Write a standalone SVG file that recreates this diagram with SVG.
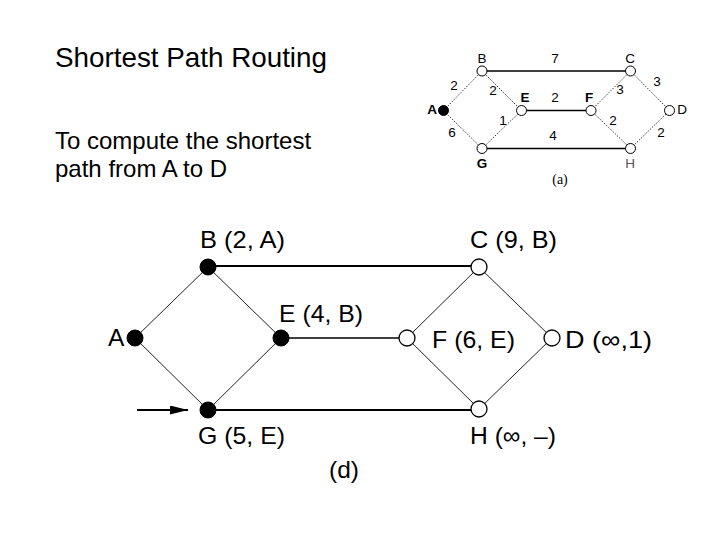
<svg xmlns="http://www.w3.org/2000/svg" width="720" height="540" viewBox="0 0 720 540">
<style>
text{font-family:"Liberation Sans",Arial,sans-serif;fill:#000}
.title{font-size:27.8px}
.body{font-size:24px}
.lab{font-size:24.5px}
.sm{font-size:13.5px}
.smb{font-size:13.5px;font-weight:bold}
.ser{font-family:"Liberation Serif","Times New Roman",serif;font-size:14px}
.dot{stroke:#333;stroke-width:1;stroke-dasharray:1.5 1.5;fill:none}
.sol{stroke:#000;stroke-width:1.4;fill:none}
.thin{stroke:#222;stroke-width:1;fill:none}
.thick{stroke:#000;stroke-width:2;fill:none}
.mid{stroke:#000;stroke-width:1.5;fill:none}
.on{fill:#000;stroke:#000;stroke-width:1}
.off{fill:#fff;stroke:#000;stroke-width:1.3}
.soff{fill:#fff;stroke:#000;stroke-width:1}
</style>
<defs>
<marker id="ah" markerWidth="18" markerHeight="9" refX="18" refY="4.5" orient="auto" markerUnits="userSpaceOnUse">
<path d="M0,0 L18,4.5 L0,9 Z" fill="#000"/>
</marker>
</defs>
<g id="heading">
<text class="title" x="55" y="67">Shortest Path Routing</text>
<text class="body" x="55" y="149">To compute the shortest</text>
<text class="body" x="55" y="177">path from A to D</text>
</g>
<g id="graph-a">
<g id="edges-a">
<line class="dot" x1="443.5" y1="110.5" x2="482" y2="71"/>
<line class="dot" x1="482" y1="71" x2="521.5" y2="110.5"/>
<line class="dot" x1="443.5" y1="110.5" x2="482" y2="148.5"/>
<line class="dot" x1="482" y1="148.5" x2="521.5" y2="110.5"/>
<line class="dot" x1="630.5" y1="71" x2="591" y2="110.5"/>
<line class="dot" x1="591" y1="110.5" x2="630.5" y2="148.5"/>
<line class="dot" x1="630.5" y1="71" x2="669.5" y2="110.5"/>
<line class="dot" x1="630.5" y1="148.5" x2="669.5" y2="110.5"/>
<line class="sol" x1="482" y1="71" x2="630.5" y2="71"/>
<line class="sol" x1="521.5" y1="110.5" x2="591" y2="110.5"/>
<line class="sol" x1="482" y1="148.5" x2="630.5" y2="148.5"/>
<g class="sm" text-anchor="middle">
<text x="555" y="63">7</text>
<text x="555" y="102">2</text>
<text x="553" y="140">4</text>
<text x="454" y="90">2</text>
<text x="493" y="95">2</text>
<text x="452" y="137">6</text>
<text x="503" y="125">1</text>
<text x="620" y="94">3</text>
<text x="657" y="86">3</text>
<text x="613" y="125">2</text>
<text x="661" y="137">2</text>
</g>
</g>
<g id="a-A"><circle class="on" cx="443.5" cy="110.5" r="5"/><text class="smb" x="432" y="114" text-anchor="middle">A</text></g>
<g id="a-B"><circle class="soff" cx="482" cy="71" r="5"/><text class="sm" x="482" y="63" text-anchor="middle">B</text></g>
<g id="a-C"><circle class="soff" cx="630.5" cy="71" r="5"/><text class="sm" x="630" y="63" text-anchor="middle">C</text></g>
<g id="a-E"><circle class="soff" cx="521.5" cy="110.5" r="5"/><text class="smb" x="525" y="102" text-anchor="middle">E</text></g>
<g id="a-F"><circle class="soff" cx="591" cy="110.5" r="5"/><text class="smb" x="589" y="102" text-anchor="middle">F</text></g>
<g id="a-D"><circle class="soff" cx="669.5" cy="110.5" r="5"/><text class="sm" x="682" y="114" text-anchor="middle">D</text></g>
<g id="a-G"><circle class="soff" cx="482" cy="148.5" r="5"/><text class="smb" x="482" y="168" text-anchor="middle">G</text></g>
<g id="a-H"><circle class="soff" cx="630.5" cy="148.5" r="5"/><text class="sm" x="630" y="168" text-anchor="middle" style="fill:#555">H</text></g>
<text class="ser" x="560" y="184" text-anchor="middle">(a)</text>
</g>
<g id="connectors">
<line class="thin" x1="135" y1="338" x2="208" y2="267"/>
<line class="thin" x1="208" y1="267" x2="281" y2="338"/>
<line class="thin" x1="135" y1="338" x2="208" y2="410"/>
<line class="thin" x1="208" y1="410" x2="281" y2="338"/>
<line class="thin" x1="479" y1="267" x2="407" y2="338"/>
<line class="thin" x1="407" y1="338" x2="479" y2="409"/>
<line class="thin" x1="479" y1="267" x2="552" y2="338"/>
<line class="thin" x1="479" y1="409" x2="552" y2="338"/>
<line class="thick" x1="208" y1="266" x2="479" y2="266"/>
<line class="mid" x1="281" y1="338" x2="407" y2="338"/>
<line class="thick" x1="208" y1="410" x2="479" y2="410"/>
<line class="thick" x1="137" y1="410" x2="188" y2="410" marker-end="url(#ah)"/>
</g>
<g id="node-A"><circle class="on" cx="135" cy="338" r="8"/><text class="lab" x="108" y="346">A</text></g>
<g id="node-B"><circle class="on" cx="208" cy="267" r="8"/><text class="lab" x="200" y="248" textLength="85" lengthAdjust="spacingAndGlyphs">B (2, A)</text></g>
<g id="node-E"><circle class="on" cx="281" cy="338" r="8"/><text class="lab" x="279" y="322" textLength="84" lengthAdjust="spacingAndGlyphs">E (4, B)</text></g>
<g id="node-G"><circle class="on" cx="208" cy="410" r="8"/><text class="lab" x="198" y="444" textLength="87" lengthAdjust="spacingAndGlyphs">G (5, E)</text></g>
<g id="node-C"><circle class="off" cx="479" cy="267" r="8"/><text class="lab" x="470" y="248" textLength="87" lengthAdjust="spacingAndGlyphs">C (9, B)</text></g>
<g id="node-F"><circle class="off" cx="407" cy="338" r="8"/><text class="lab" x="432" y="348" textLength="83" lengthAdjust="spacingAndGlyphs">F (6, E)</text></g>
<g id="node-D"><circle class="off" cx="552" cy="338" r="8"/><text class="lab" x="565" y="348" textLength="87" lengthAdjust="spacingAndGlyphs">D (∞,1)</text></g>
<g id="node-H"><circle class="off" cx="479" cy="409" r="8"/><text class="lab" x="470" y="444" textLength="86" lengthAdjust="spacingAndGlyphs">H (∞, –)</text></g>
<text class="lab" x="344" y="478" text-anchor="middle">(d)</text>
</svg>
